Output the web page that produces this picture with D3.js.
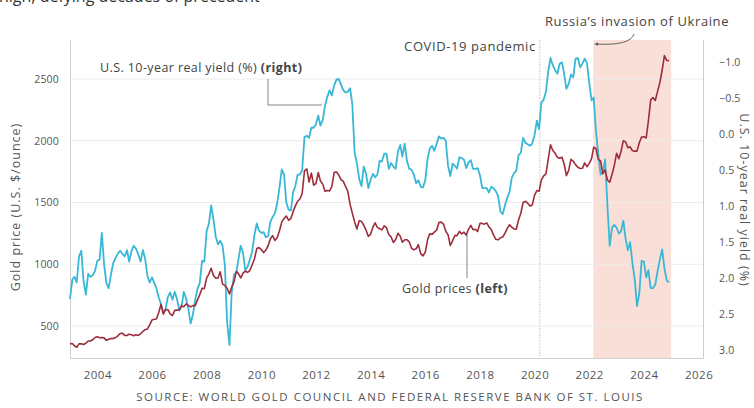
<!DOCTYPE html>
<html><head><meta charset="utf-8">
<script src="https://cdn.jsdelivr.net/npm/d3@7"></script>
<style>
html,body{margin:0;padding:0;background:#fff;}
svg{display:block;font-family:"Open Sans",sans-serif;}
</style></head>
<body><svg id="c" width="754" height="408"></svg>
<script>
// Monthly data Jan 2003 .. Dec 2024
const startMonth = "2003-01";
const goldPrices = [
356,358,340,328,355,356,351,360,379,379,389,407,
414,405,406,404,384,392,398,400,405,420,439,442,
424,423,434,429,422,430,424,437,456,470,476,510,
549,555,557,610,676,596,633,632,598,585,627,629,
631,665,655,679,667,655,665,665,712,754,806,803,
889,922,968,909,888,889,939,839,829,806,760,816,
858,943,924,890,928,945,934,949,996,1043,1127,1135,
1118,1095,1114,1148,1205,1232,1193,1215,1271,1343,1370,1391,
1356,1372,1424,1473,1510,1529,1573,1756,1772,1666,1739,1640,
1654,1743,1675,1649,1591,1598,1594,1630,1745,1747,1722,1685,
1671,1628,1593,1487,1414,1343,1286,1352,1348,1316,1275,1225,
1244,1301,1336,1299,1288,1279,1311,1296,1239,1222,1176,1201,
1251,1227,1179,1198,1199,1181,1131,1117,1125,1159,1086,1068,
1097,1200,1246,1242,1260,1276,1337,1341,1326,1267,1238,1152,
1192,1234,1231,1267,1246,1260,1236,1283,1315,1280,1283,1265,
1331,1331,1325,1335,1303,1282,1238,1202,1198,1215,1221,1250,
1291,1320,1300,1286,1284,1359,1413,1500,1510,1495,1471,1480,
1560,1597,1591,1683,1716,1732,1847,1968,1921,1900,1866,1858,
1867,1808,1718,1760,1850,1834,1807,1785,1775,1777,1821,1790,
1817,1856,1948,1937,1849,1836,1733,1764,1681,1665,1726,1798,
1898,1855,1913,2000,1992,1943,1951,1919,1916,1916,1985,2030,
2033,2023,2160,2331,2350,2326,2398,2470,2571,2690,2651,2648
];
const realYield = [
2.29,2.02,1.98,2.06,1.70,1.62,2.04,2.23,1.94,1.98,1.96,1.90,
1.76,1.74,1.37,1.81,2.07,2.14,1.95,1.79,1.72,1.66,1.62,1.66,
1.70,1.61,1.77,1.63,1.55,1.59,1.67,1.77,1.61,1.73,1.97,2.06,
1.99,2.07,2.14,2.27,2.36,2.48,2.43,2.26,2.20,2.30,2.19,2.29,
2.45,2.39,2.19,2.28,2.42,2.63,2.51,2.30,2.15,2.07,1.76,1.77,
1.35,1.24,0.99,1.18,1.42,1.53,1.48,1.55,1.82,2.62,2.93,2.20,
1.95,1.92,1.74,1.55,1.65,1.89,1.84,1.74,1.63,1.40,1.24,1.34,
1.37,1.36,1.43,1.42,1.22,1.15,1.10,0.96,0.74,0.49,0.56,0.95,
1.05,1.06,0.81,0.72,0.56,0.56,0.50,0.04,0.02,0.05,-0.09,-0.09,
-0.14,-0.26,-0.12,-0.20,-0.39,-0.52,-0.61,-0.54,-0.68,-0.76,-0.77,-0.69,
-0.61,-0.58,-0.59,-0.64,-0.42,0.26,0.40,0.62,0.72,0.45,0.55,0.75,
0.63,0.55,0.60,0.56,0.37,0.38,0.27,0.27,0.48,0.40,0.45,0.48,
0.24,0.15,0.31,0.13,0.37,0.48,0.49,0.56,0.68,0.64,0.73,0.74,
0.64,0.34,0.20,0.16,0.23,0.13,0.03,0.06,0.05,0.09,0.44,0.58,
0.41,0.44,0.48,0.32,0.33,0.35,0.47,0.39,0.36,0.48,0.48,0.47,
0.57,0.75,0.75,0.75,0.81,0.73,0.75,0.79,0.86,1.07,1.11,0.99,
0.88,0.80,0.61,0.54,0.51,0.29,0.26,0.05,0.12,0.14,0.16,0.13,
0.01,-0.19,-0.07,-0.44,-0.48,-0.59,-0.87,-1.06,-0.96,-0.89,-0.84,-0.98,
-1.00,-0.83,-0.63,-0.70,-0.83,-0.79,-1.05,-1.06,-0.93,-0.98,-1.05,-0.99,
-0.71,-0.47,-0.51,-0.04,0.27,0.56,0.53,0.35,1.00,1.55,1.30,1.26,
1.30,1.38,1.35,1.20,1.45,1.61,1.50,1.79,2.02,2.39,2.21,1.76,
1.77,1.99,1.89,2.14,2.14,2.09,1.91,1.74,1.60,1.86,2.03,2.06
];
const leftTicks = [500,1000,1500,2000,2500];
const rightTicks = [-1.0,-0.5,0.0,0.5,1.0,1.5,2.0,2.5,3.0];
const yearTicks = [2004,2006,2008,2010,2012,2014,2016,2018,2020,2022,2024,2026];
const covidDate = "2020-03-11";
const invasionStart = "2022-02-24";
const invasionEnd = "2024-12-31";

const parse = d3.timeParse("%Y-%m-%d");
const months = d3.timeMonth.range(parse(startMonth + "-01"), parse("2025-01-01"));

const svg = d3.select("#c");
const W = 754, H = 408;
const m = {left:70, right:51, top:40, bottom:50};
const x = d3.scaleTime().domain([parse("2003-01-01"), parse("2026-03-01")]).range([m.left, W - m.right]);
const yL = d3.scaleLinear().domain([241, 2816]).range([H - m.bottom, m.top]);
const yR = d3.scaleLinear().domain([3.11, -1.31]).range([H - m.bottom, m.top]);
const txt = "#555";

// cut-off subtitle
svg.append("text").attr("x", -1).attr("y", 2).attr("fill", "#333")
  .attr("font-size", 16).text("high, defying decades of precedent");

// shaded invasion band
svg.append("rect")
  .attr("x", x(parse(invasionStart))).attr("y", m.top)
  .attr("width", x(parse(invasionEnd)) - x(parse(invasionStart)))
  .attr("height", H - m.bottom - m.top)
  .attr("fill", "#f9dfd7");

// gridlines
svg.append("g").selectAll("line").data(leftTicks).join("line")
  .attr("x1", m.left).attr("x2", W - m.right)
  .attr("y1", d => yL(d)).attr("y2", d => yL(d))
  .attr("stroke", "#ececec").attr("stroke-width", 1);

// covid line
svg.append("line")
  .attr("x1", x(parse(covidDate))).attr("x2", x(parse(covidDate)))
  .attr("y1", m.top).attr("y2", H - m.bottom)
  .attr("stroke", "#cfcfcf").attr("stroke-width", 1).attr("stroke-dasharray", "2,1");

// axes
const axisStyle = (size, ls) => g => {
  g.selectAll("text").attr("fill", txt).attr("font-size", size).attr("letter-spacing", ls)
   .attr("font-family", "Open Sans, sans-serif");
  g.selectAll(".tick line").remove();
};
svg.append("g").attr("transform", `translate(0,${H - m.bottom})`)
  .call(d3.axisBottom(x).tickValues(yearTicks.map(y => new Date(y, 0, 1))).tickFormat(d3.timeFormat("%Y")).tickSizeOuter(0).tickPadding(7))
  .call(axisStyle(11.5, 0.5))
  .call(g => g.select(".domain").attr("stroke", "#cfcfcf"));
svg.append("g").attr("transform", `translate(${m.left},0)`)
  .call(d3.axisLeft(yL).tickValues(leftTicks).tickFormat(d3.format("d")).tickSizeOuter(0).tickPadding(5))
  .call(axisStyle(10.5, 0.2))
  .call(g => g.select(".domain").attr("stroke", "#cfcfcf"));
svg.append("g").attr("transform", `translate(${W - m.right},0)`)
  .call(d3.axisRight(yR).tickValues(rightTicks).tickFormat(d3.format(".1f")).tickSizeOuter(0).tickPadding(10))
  .call(axisStyle(10.5, 0.2))
  .call(g => g.select(".domain").attr("stroke", "#cfcfcf"));

// axis titles
svg.append("text").attr("transform", `translate(20,207) rotate(-90)`)
  .attr("text-anchor", "middle").attr("fill", txt).attr("font-size", 12.5).attr("letter-spacing", 1)
  .text("Gold price (U.S. $/ounce)");
svg.append("text").attr("transform", `translate(740,200) rotate(90)`)
  .attr("text-anchor", "middle").attr("fill", txt).attr("font-size", 12.5).attr("letter-spacing", 1)
  .text("U.S. 10-year real yield (%)");

// lines
const gold = months.map((d, i) => ({d, v: goldPrices[i]}));
const yld = months.map((d, i) => ({d, v: realYield[i]}));
svg.append("path").datum(yld)
  .attr("d", d3.line().x(p => x(p.d)).y(p => yR(p.v)))
  .attr("fill", "none").attr("stroke", "#38b8d6").attr("stroke-width", 1.8).attr("stroke-linejoin", "round");
svg.append("path").datum(gold)
  .attr("d", d3.line().x(p => x(p.d)).y(p => yL(p.v)))
  .attr("fill", "none").attr("stroke", "#9e2d3c").attr("stroke-width", 1.6).attr("stroke-linejoin", "round");

// annotations
const ann = svg.append("g").attr("fill", "#444").attr("font-size", 12.5).attr("letter-spacing", 0.4);
const t1 = ann.append("text").attr("x", 100).attr("y", 72);
t1.append("tspan").text("U.S. 10-year real yield (%) ");
t1.append("tspan").attr("font-weight", "bold").text("(right)");
svg.append("path").attr("d", "M268,79V105H322").attr("fill", "none").attr("stroke", "#666").attr("stroke-width", 0.8);

const t2 = ann.append("text").attr("x", 402).attr("y", 293);
t2.append("tspan").text("Gold prices ");
t2.append("tspan").attr("font-weight", "bold").text("(left)");
svg.append("path").attr("d", "M467,233V278").attr("fill", "none").attr("stroke", "#666").attr("stroke-width", 0.8);

ann.append("text").attr("x", x(parse(covidDate)) - 4).attr("y", 51).attr("text-anchor", "end")
  .attr("font-size", 13).attr("letter-spacing", 0.6).text("COVID-19 pandemic");
ann.append("text").attr("x", 545).attr("y", 26)
  .attr("font-size", 13).attr("letter-spacing", 0.6).text("Russia\u2019s invasion of Ukraine");

svg.append("defs").append("marker").attr("id", "ah").attr("viewBox", "0 0 10 10")
  .attr("refX", 5).attr("refY", 5).attr("markerWidth", 5).attr("markerHeight", 5).attr("orient", "auto")
  .append("path").attr("d", "M0,1L9,5L0,9Z").attr("fill", "#555");
svg.append("path").attr("d", "M634,34 Q630,46 596,44").attr("fill", "none")
  .attr("stroke", "#555").attr("stroke-width", 0.9).attr("marker-end", "url(#ah)");

// source
svg.append("text").attr("x", 390).attr("y", 401).attr("text-anchor", "middle")
  .attr("fill", txt).attr("font-size", 11.5).attr("letter-spacing", 1.5)
  .text("SOURCE: WORLD GOLD COUNCIL AND FEDERAL RESERVE BANK OF ST. LOUIS");
</script></body></html>
